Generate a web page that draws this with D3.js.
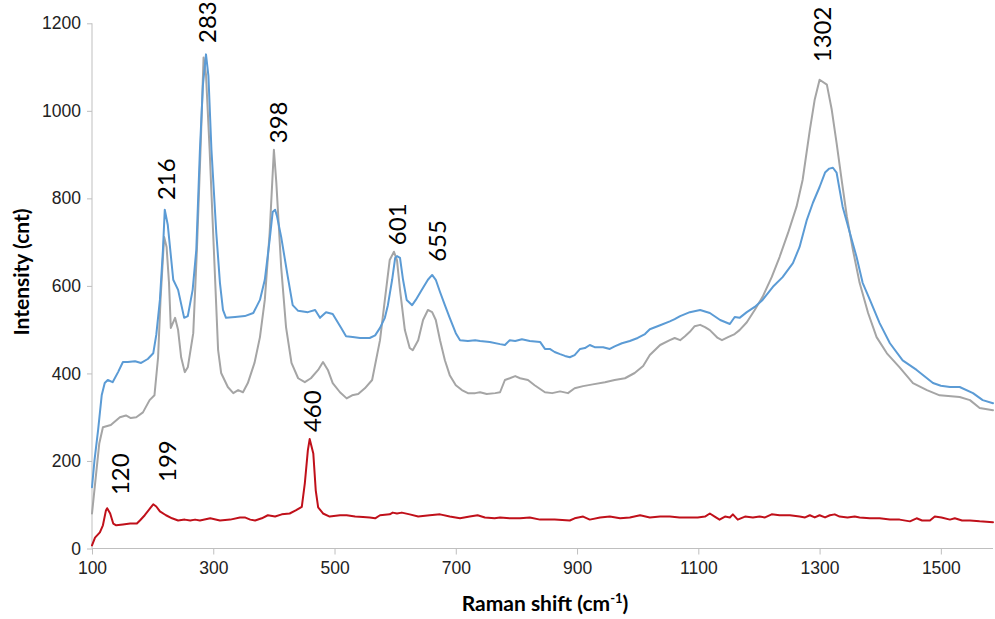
<!DOCTYPE html>
<html>
<head>
<meta charset="utf-8">
<script src="https://cdn.jsdelivr.net/npm/d3@7"></script>
<style>
  html, body { margin: 0; padding: 0; background: #fff; }
  svg { display: block; font-family: Lato, "Open Sans", sans-serif; }
</style>
</head>
<body>
<svg id="chart" width="995" height="619"></svg>
<script>
// ---- data (Raman shift cm-1, intensity cnt) ----
const xTicks = [100, 300, 500, 700, 900, 1100, 1300, 1500];
const yTicks = [0, 200, 400, 600, 800, 1000, 1200];

const blueSeries = [
  [100,140],[104,200],[110,270],[116,350],[121,378],[126,385],[134,380],[143,403],[151,426],[159,426],
  [171,428],[181,424],[192,433],[201,446],[206,488],[212,568],[217,682],[220,774],[225,739],[234,614],
  [242,591],[252,527],[258,531],[266,591],[272,682],[278,911],[283,1060],[288,1129],[292,1080],[297,911],
  [305,721],[311,607],[316,545],[321,527],[336,529],[352,531],[366,538],[377,568],[385,614],[393,705],
  [398,769],[402,774],[405,760],[412,712],[423,620],[431,556],[440,543],[456,540],[468,545],[476,527],
  [486,540],[497,536],[511,504],[519,485],[530,483],[542,481],[558,481],[567,487],[575,504],[583,527],
  [588,556],[595,614],[600,664],[603,668],[608,664],[613,614],[619,568],[628,556],[634,568],[644,591],
  [654,614],[661,625],[667,614],[674,586],[682,556],[690,527],[700,492],[707,476],[720,474],[732,476],
  [740,474],[756,472],[773,467],[781,465],[789,476],[798,474],[809,478],[822,474],[839,472],[847,456],
  [855,456],[863,449],[872,444],[880,440],[888,437],[896,442],[905,456],[913,458],[921,465],[929,460],
  [943,460],[954,456],[962,462],[974,469],[987,474],[1000,481],[1012,490],[1020,501],[1037,510],[1053,519],
  [1061,524],[1070,531],[1086,540],[1103,545],[1119,538],[1136,522],[1152,513],[1160,529],[1168,527],[1180,540],
  [1193,552],[1206,568],[1223,598],[1239,620],[1256,652],[1267,689],[1279,751],[1289,790],[1300,826],[1309,859],
  [1316,868],[1322,870],[1328,859],[1338,781],[1350,721],[1361,666],[1371,607],[1383,568],[1399,515],[1416,469],
  [1437,430],[1460,408],[1487,378],[1500,372],[1515,369],[1531,369],[1553,355],[1569,339],[1586,332]
];

const graySeries = [
  [100,80],[106,160],[112,240],[118,277],[131,282],[146,300],[156,304],[164,298],[173,300],[184,311],
  [195,339],[203,350],[209,437],[213,568],[219,712],[223,689],[227,607],[230,504],[237,527],[242,499],
  [247,437],[253,403],[258,414],[267,492],[273,682],[279,911],[284,1122],[288,1083],[294,911],[301,682],
  [308,453],[313,401],[324,369],[333,355],[341,362],[349,357],[357,378],[368,424],[377,483],[385,568],
  [393,721],[400,911],[404,836],[412,643],[420,506],[429,424],[440,389],[451,380],[461,389],[473,408],
  [481,426],[489,408],[497,378],[509,357],[520,343],[529,350],[539,353],[550,366],[562,385],[575,476],
  [583,568],[591,659],[598,678],[603,659],[608,591],[616,499],[624,458],[629,453],[638,476],[646,522],
  [654,545],[661,540],[667,522],[674,476],[682,430],[690,396],[700,373],[710,362],[720,355],[732,355],
  [740,357],[751,353],[765,355],[773,357],[781,385],[789,389],[798,394],[806,389],[819,385],[830,373],
  [847,357],[859,355],[872,359],[885,355],[896,366],[910,371],[926,375],[946,380],[962,385],[979,389],
  [995,401],[1009,417],[1020,442],[1037,465],[1053,476],[1061,481],[1070,476],[1078,485],[1086,495],[1094,508],
  [1103,511],[1111,506],[1119,499],[1132,481],[1139,476],[1149,483],[1160,490],[1168,499],[1180,517],[1193,545],
  [1206,575],[1221,620],[1234,666],[1248,721],[1262,781],[1272,842],[1284,957],[1292,1026],[1300,1071],[1312,1060],
  [1320,1003],[1328,927],[1337,836],[1345,758],[1355,682],[1366,607],[1380,538],[1394,483],[1411,446],[1432,414],
  [1454,378],[1477,362],[1498,350],[1531,346],[1548,339],[1564,321],[1586,316]
];

const redSeries = [
  [100,7],[105,25],[113,37],[118,53],[123,87],[125,92],[130,80],[135,57],[140,53],[151,55],
  [163,57],[174,57],[179,64],[187,76],[196,92],[201,101],[206,96],[212,85],[222,76],[232,69],
  [242,64],[253,66],[262,64],[270,66],[278,64],[295,69],[311,64],[328,66],[344,71],[352,71],
  [361,66],[369,64],[380,69],[390,76],[402,73],[413,78],[426,80],[436,87],[446,95],[451,149],
  [456,224],[459,250],[465,217],[469,133],[473,94],[481,80],[492,73],[509,76],[520,76],[534,73],
  [547,72],[558,71],[567,69],[575,76],[591,78],[596,82],[603,80],[611,82],[624,78],[638,73],
  [657,76],[674,78],[690,73],[707,69],[723,73],[736,76],[748,71],[764,69],[773,71],[789,69],
  [806,69],[822,71],[839,66],[863,66],[888,64],[896,69],[910,73],[921,66],[938,71],[954,73],
  [971,69],[987,71],[1004,76],[1020,71],[1037,73],[1053,73],[1069,71],[1086,71],[1099,71],[1111,73],
  [1119,80],[1127,73],[1135,66],[1144,73],[1152,71],[1157,78],[1165,66],[1177,73],[1190,71],[1201,73],
  [1210,71],[1221,78],[1234,76],[1251,76],[1267,73],[1276,71],[1284,76],[1292,71],[1300,76],[1309,71],
  [1317,76],[1325,78],[1333,73],[1346,71],[1358,73],[1366,71],[1383,69],[1399,69],[1416,66],[1432,66],
  [1449,62],[1460,69],[1469,64],[1482,64],[1490,73],[1501,71],[1515,66],[1523,69],[1535,64],[1548,64],
  [1564,62],[1586,60]
];

// peak annotations: label text, label centre (cm-1), label lower end (intensity)
const peakLabels = ["216", "283", "398", "601", "655", "1302", "120", "199", "460"];
const peakLabelX = [222, 291, 407, 604, 669, 1305, 146, 225, 463];
const peakLabelY = [796, 1155, 926, 693, 655, 1111, 122, 152, 266];

// ---- chart ----
const svg = d3.select("#chart");
const x = d3.scaleLinear().domain([100, 1586]).range([92, 993]);
const y = d3.scaleLinear().domain([0, 1200]).range([548.5, 23.3]);

const axisColor = "#bfbfbf";
const textColor = "#222";

// y axis
const yAxis = svg.append("g").attr("transform", "translate(92,0)")
  .call(d3.axisLeft(y).tickValues(yTicks).tickSize(5).tickPadding(6).tickFormat(d3.format("d")));
yAxis.selectAll("path,line").attr("stroke", axisColor);
yAxis.selectAll("text").attr("fill", textColor).style("font-size", "17.5px");
yAxis.select(".domain").attr("d", `M0,${y(0)}V${y(1200)}`);

// x axis
const xAxis = svg.append("g").attr("transform", `translate(0,${y(0)})`)
  .call(d3.axisBottom(x).tickValues(xTicks).tickSize(6).tickPadding(7).tickFormat(d3.format("d")));
xAxis.selectAll("path,line").attr("stroke", axisColor);
xAxis.selectAll("text").attr("fill", textColor).style("font-size", "17.5px");
xAxis.select(".domain").attr("d", `M${x(100)},0H${x(1586)}`);

// lines
const line = d3.line().x(d => x(d[0])).y(d => y(d[1]));
function drawSeries(data, color) {
  svg.append("path").datum(data)
    .attr("fill", "none").attr("stroke", color).attr("stroke-width", 2)
    .attr("stroke-linejoin", "round").attr("stroke-linecap", "round")
    .attr("d", line);
}
drawSeries(graySeries, "#a5a5a5");
drawSeries(blueSeries, "#5b9bd5");
drawSeries(redSeries, "#c0101a");

// peak labels
peakLabels.forEach((t, i) => {
  const px = x(peakLabelX[i]), py = y(peakLabelY[i]);
  svg.append("text")
    .attr("transform", `translate(${px},${py}) rotate(-90)`)
    .attr("text-anchor", "start")
    .attr("dy", "0.36em")
    .attr("fill", "#000")
    .style("font-size", "24px")
    .text(t);
});

// axis titles
const xt = svg.append("text")
  .attr("x", 545).attr("y", 611)
  .attr("text-anchor", "middle").attr("fill", "#000")
  .style("font-size", "21px").style("font-weight", "bold");
xt.append("tspan").text("Raman shift (cm");
xt.append("tspan").attr("dy", -8).style("font-size", "13px").text("-1");
xt.append("tspan").attr("dy", 8).text(")");

svg.append("text")
  .attr("transform", "translate(29,272) rotate(-90)")
  .attr("text-anchor", "middle").attr("fill", "#000")
  .style("font-size", "21px").style("font-weight", "bold")
  .text("Intensity (cnt)");
</script>
</body>
</html>
